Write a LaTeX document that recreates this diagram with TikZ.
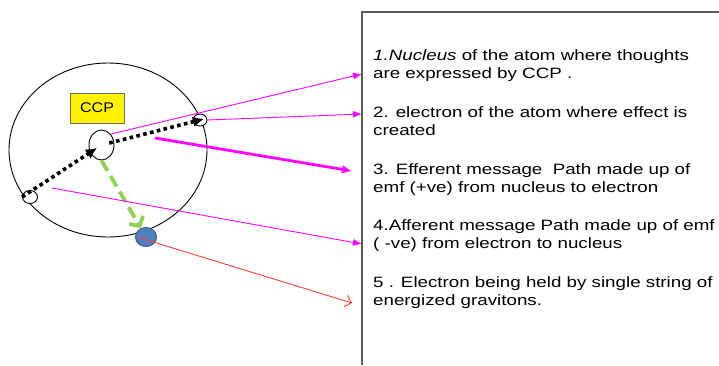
\documentclass[tikz,border=0pt]{standalone}
\usepackage{fontspec}
\setmainfont{Liberation Sans}
\usetikzlibrary{arrows.meta,shapes.geometric}
\definecolor{mag}{HTML}{FF00FF}
\definecolor{grn}{HTML}{92D050}
\definecolor{dotblue}{HTML}{4F81BD}
\definecolor{dotedge}{HTML}{385D8A}
\definecolor{redline}{HTML}{FF3B3B}
\definecolor{boxline}{HTML}{5A5A5A}
\newcommand{\wtxt}[1]{\scalebox{1.25}[1]{#1}}
\begin{document}
\begin{tikzpicture}[x=1pt,y=-1pt,
  orb/.style={draw=black,fill=white,ellipse,inner sep=0pt,line width=0.9pt},
  lbl/.style={anchor=base west,inner sep=0pt,font=\fontsize{15}{18.5}\selectfont},
  magline/.style={draw=mag,line width=0.9pt,-{Latex[length=9pt,width=7pt]}},
  magthick/.style={draw=mag,line width=2.8pt,-{Latex[length=10pt,width=9pt]}},
  dotarrow/.style={draw=black,line width=3.6pt,dash pattern=on 3.6pt off 3.4pt,-{Latex[length=11pt,width=11pt]}},
  grnarrow/.style={draw=grn,line width=3.8pt,dash pattern=on 12pt off 6pt,-{Straight Barb[length=7pt,width=16pt,line width=3.8pt]}},
  redarrow/.style={draw=redline,line width=0.9pt,-{Straight Barb[length=6pt,width=12pt,line width=0.9pt]}}]
\useasboundingbox (0,0) rectangle (719,365);
\fill[white] (0,0) rectangle (719,365);

% text box
\coordinate (bxtr) at (719,12);
\coordinate (bxtl) at (362,12);
\coordinate (bxbl) at (362,365);
\draw[boxline,line width=1.5pt] (bxtr) -- (bxtl) -- (bxbl);

% atom
\node[orb,fill=none,minimum width=198pt,minimum height=174pt] (atom) at (108,150) {};
\node[draw=gray!85!black,fill=yellow,line width=1pt,minimum width=54pt,minimum height=30pt,inner sep=0pt,font=\fontsize{14}{16}\selectfont] (ccp) at (97,108) {\scalebox{1.15}[1]{CCP}};
\node[orb,minimum width=25pt,minimum height=30pt] (nuc) at (101.5,145) {};
\node[orb,minimum width=14pt,minimum height=12pt] (eR) at (200,120) {};
\node[orb,minimum width=15pt,minimum height=13pt] (eL) at (30,197) {};
\node[ellipse,fill=dotblue,draw=dotedge,line width=1pt,minimum width=21pt,minimum height=19pt,inner sep=0pt] (g) at (146,237) {};

% dotted arrows
\draw[dotarrow,shorten >=5.4pt] (eL.west) -- (nuc.center);
\draw[dotarrow,shorten <=8pt,shorten >=-4pt] (nuc.center) -- (eR.center);
% green dashed
\draw[grnarrow] (nuc.south) -- (g);

% pointer coordinates
\coordinate (s3) at (155,138);
\coordinate (s4) at (52,188);
\coordinate (p1) at (362,74);
\coordinate (p2) at (362,114);
\coordinate (p3) at (352,171);
\coordinate (p4) at (362,244);
\coordinate (p5) at (352,303);
\coordinate (s5) at (137,237);

\draw[magline] (nuc.north east) -- (p1);
\draw[magline] (eR.east) -- (p2);
\draw[magthick] (s3) -- (p3);
\draw[magline] (s4) -- (p4);
\draw[redarrow] (s5) -- (p5);

% texts
\node[lbl] (t1) at (373,60) {\begin{tabular}[t]{@{}l@{}}\wtxt{\textit{1.Nucleus} of the atom where thoughts}\\ \wtxt{are expressed by CCP .}\end{tabular}};
\node[lbl] (t2) at (373,117) {\begin{tabular}[t]{@{}l@{}}\wtxt{2. electron of the atom where effect is}\\ \wtxt{created}\end{tabular}};
\node[lbl] (t3) at (373,174) {\begin{tabular}[t]{@{}l@{}}\wtxt{3. Efferent message\ \ Path made up of}\\ \wtxt{emf (+ve) from nucleus to electron}\end{tabular}};
\node[lbl] (t4) at (373,230) {\begin{tabular}[t]{@{}l@{}}\wtxt{4.Afferent message Path made up of emf}\\ \wtxt{( -ve) from electron to nucleus}\end{tabular}};
\node[lbl] (t5) at (373,287) {\begin{tabular}[t]{@{}l@{}}\wtxt{5 . Electron being held by single string of}\\ \wtxt{energized gravitons.}\end{tabular}};
\end{tikzpicture}
\end{document}
